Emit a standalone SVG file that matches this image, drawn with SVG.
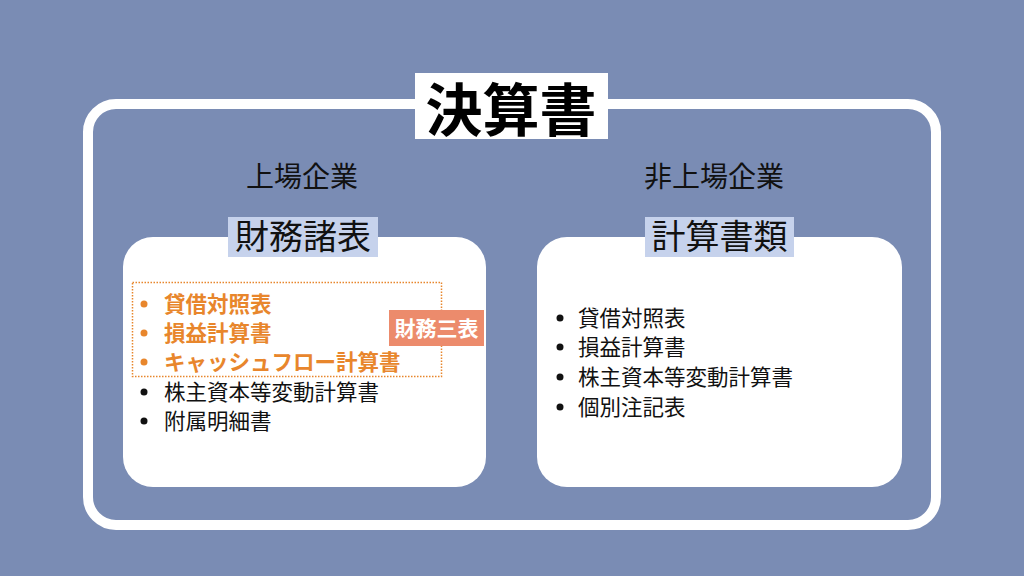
<svg xmlns="http://www.w3.org/2000/svg" width="1024" height="576" viewBox="0 0 1024 576">
<style>
text{font-family:"Noto Sans CJK JP","Noto Sans CJK SC",sans-serif;}
.sub{font-size:28px;fill:#111;text-anchor:middle;}
.lbl{font-size:34px;fill:#111;text-anchor:middle;}
.lblbox{fill:#c6d2ec;}
.card{fill:#fff;}
.item{font-size:21.5px;fill:#111;}
.hi{font-size:21.5px;fill:#e8862c;font-weight:700;}
.dot{fill:#111;}
.odot{fill:#e8862c;}
</style>
<rect x="0" y="0" width="1024" height="576" fill="#7a8cb4"/>
<g id="frame">
<rect x="88" y="104" width="848" height="421" rx="28" fill="none" stroke="#fff" stroke-width="10"/>
<rect x="415" y="73" width="193" height="66" fill="#fff"/>
<text x="511" y="131" font-size="57" font-weight="700" fill="#000" text-anchor="middle">決算書</text>
</g>
<g id="listed">
<text class="sub" x="302" y="187">上場企業</text>
<rect class="card" x="123" y="237" width="363" height="250" rx="30"/>
<rect class="lblbox" x="228" y="217" width="150" height="40"/>
<text class="lbl" x="303" y="249">財務諸表</text>
<rect x="132.5" y="282.5" width="309" height="94" fill="none" stroke="#e8862c" stroke-width="1.5" stroke-dasharray="1.5 1.5"/>
<circle class="odot" cx="144" cy="304" r="3.5"/>
<text class="hi" x="164" y="311.5">貸借対照表</text>
<circle class="odot" cx="144" cy="333" r="3.5"/>
<text class="hi" x="164" y="340.5">損益計算書</text>
<circle class="odot" cx="144" cy="362" r="3.5"/>
<text class="hi" x="164" y="369.5">キャッシュフロー計算書</text>
<circle class="dot" cx="144" cy="392" r="3.5"/>
<text class="item" x="164" y="399.5">株主資本等変動計算書</text>
<circle class="dot" cx="144" cy="421" r="3.5"/>
<text class="item" x="164" y="428.5">附属明細書</text>
<rect x="389" y="310" width="95" height="36" fill="#ec8b6c"/>
<text x="436.5" y="336" font-size="21" font-weight="700" fill="#fff" text-anchor="middle">財務三表</text>
</g>
<g id="unlisted">
<text class="sub" x="714" y="187">非上場企業</text>
<rect class="card" x="537" y="237" width="365" height="250" rx="30"/>
<rect class="lblbox" x="645" y="217" width="149" height="40"/>
<text class="lbl" x="719.5" y="249">計算書類</text>
<circle class="dot" cx="560" cy="318" r="3.5"/>
<text class="item" x="578" y="325.5">貸借対照表</text>
<circle class="dot" cx="560" cy="347" r="3.5"/>
<text class="item" x="578" y="354.5">損益計算書</text>
<circle class="dot" cx="560" cy="377" r="3.5"/>
<text class="item" x="578" y="384.5">株主資本等変動計算書</text>
<circle class="dot" cx="560" cy="407" r="3.5"/>
<text class="item" x="578" y="414.5">個別注記表</text>
</g>
<g id="connectors"></g>
</svg>
